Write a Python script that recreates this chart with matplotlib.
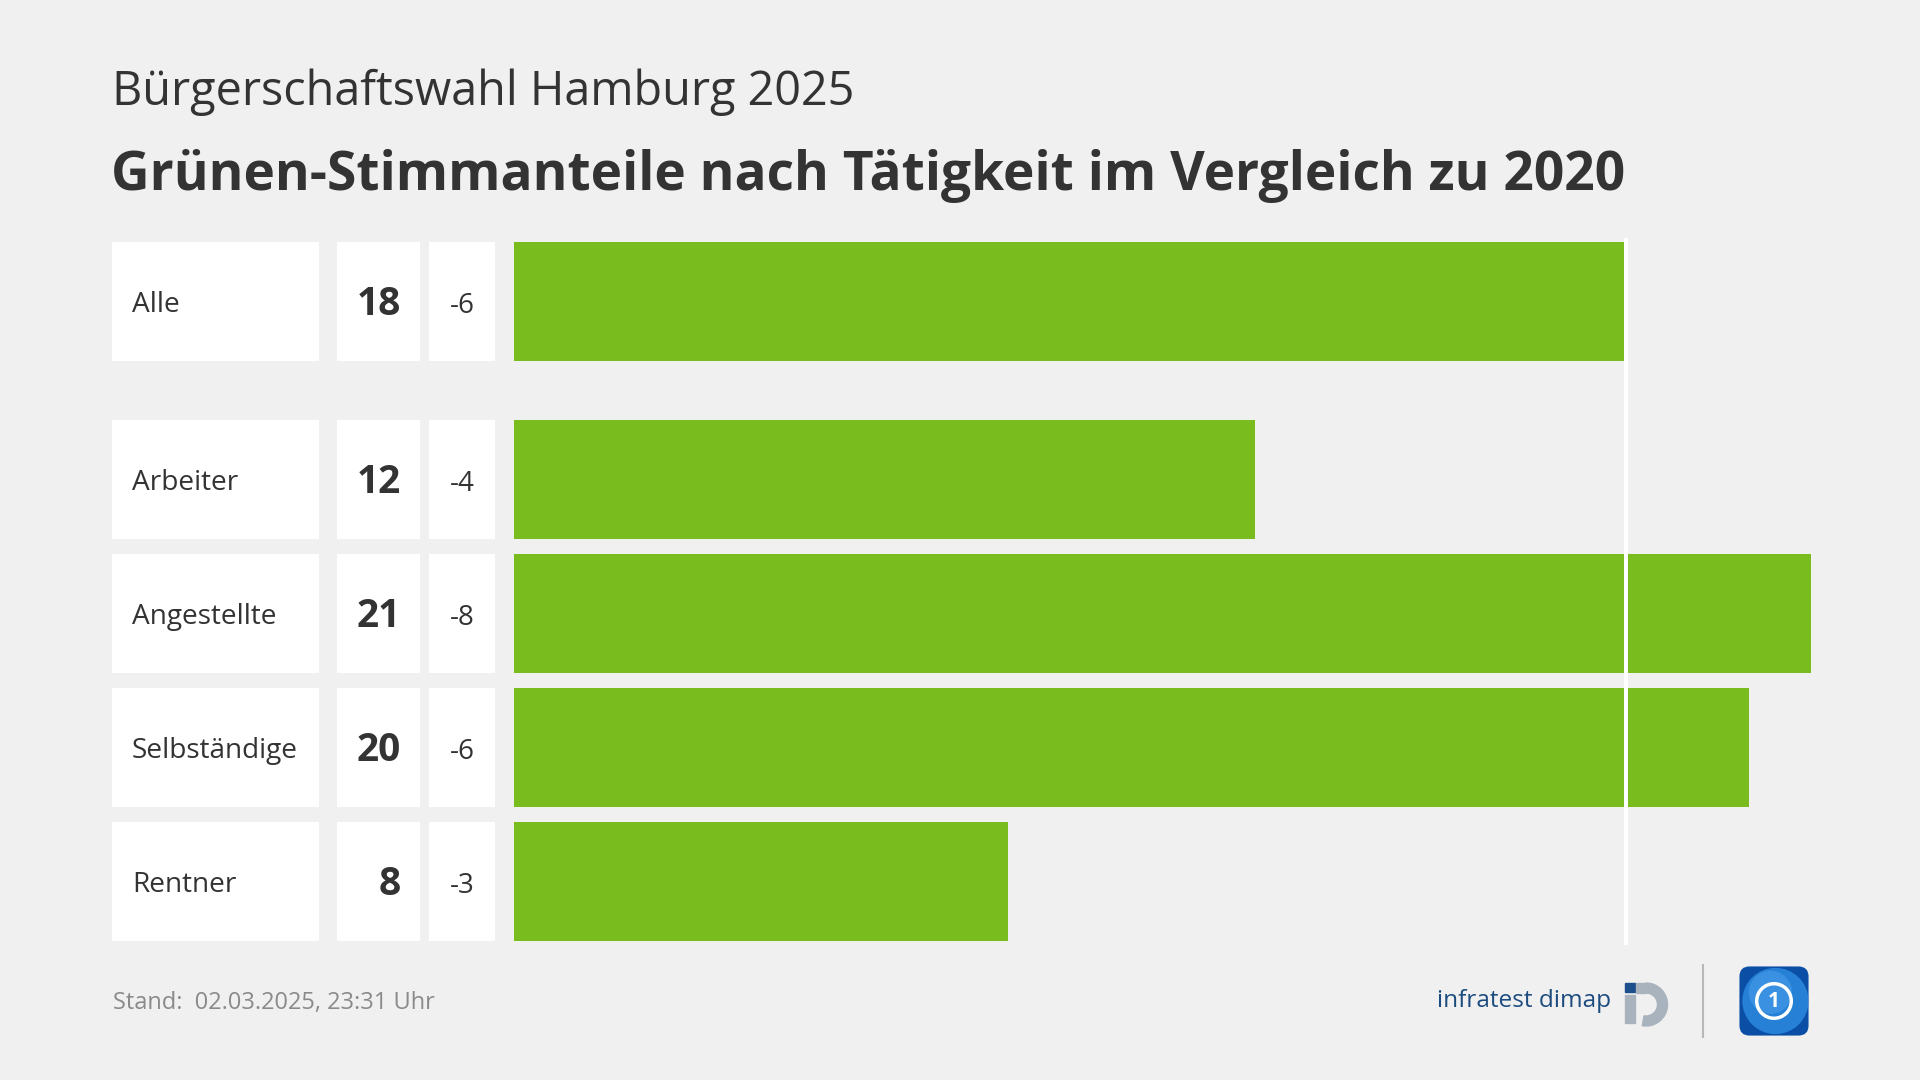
import matplotlib
matplotlib.use('Agg')
import matplotlib.pyplot as plt
from matplotlib.patches import Rectangle, FancyBboxPatch, Circle, Wedge
from matplotlib.lines import Line2D
from matplotlib.transforms import blended_transform_factory, offset_copy

# ---------------- data ----------------
categories = ["Alle", "Arbeiter", "Angestellte", "Selbständige", "Rentner"]
shares = [18, 12, 21, 20, 8]
changes = [-6, -4, -8, -6, -3]
reference_value = shares[0]

subtitle = "Bürgerschaftswahl Hamburg 2025"
title = "Grünen-Stimmanteile nach Tätigkeit im Vergleich zu 2020"
footer = "Stand:  02.03.2025, 23:31 Uhr"
brand = "infratest dimap"

# ---------------- style ----------------
plt.rcParams['font.family'] = ['Open Sans', 'DejaVu Sans']
BG = '#f0f0f0'
GREEN = '#78bc1e'
DARK = '#333333'
GREY = '#8a8a8a'

W, H = 1920, 1080
fig = plt.figure(figsize=(19.2, 10.8), dpi=100)
fig.patch.set_facecolor(BG)


def fx(px):
    return px / W


def fy(py):
    return 1 - py / H


# ---------------- bar axes ----------------
px_per_unit = 61.75
xmax = 22
ax_top_px, ax_bot_px = 238, 945
ax = fig.add_axes([fx(514), fy(ax_bot_px), xmax * px_per_unit / W, (ax_bot_px - ax_top_px) / H])
ax.set_facecolor('none')

extra_gap = 0.332
positions = [0.0] + [i + extra_gap for i in range(1, len(categories))]
bar_h = 0.888

ax.barh(positions, shares, height=bar_h, color=GREEN, zorder=2)
ax.axvline(reference_value, color='white', lw=4 * 0.72, zorder=3)
ax.set_xlim(0, xmax)
pad = 4 / 134
ax.set_ylim(positions[-1] + bar_h / 2 + pad, positions[0] - bar_h / 2 - pad)
ax.axis('off')

# ---------------- table cells ----------------
trans = blended_transform_factory(fig.transFigure, ax.transData)
cells = [(112, 319), (337, 420), (429, 495)]
for p in positions:
    for x0, x1 in cells:
        fig.add_artist(Rectangle((fx(x0), p - bar_h / 2), (x1 - x0) / W, bar_h,
                                 transform=trans, facecolor='white', edgecolor='none',
                                 clip_on=False))

t_label = offset_copy(trans, fig=fig, y=-10.5, units='dots')
t_value = offset_copy(trans, fig=fig, y=-13.5, units='dots')
t_diff = offset_copy(trans, fig=fig, y=-11.5, units='dots')
for p, cat, val, ch in zip(positions, categories, shares, changes):
    fig.text(fx(132), p, cat, transform=t_label, fontsize=20.2, color=DARK,
             ha='left', va='baseline')
    fig.text(fx(401), p, f"{val}", transform=t_value, fontsize=28, color=DARK,
             fontweight='bold', ha='right', va='baseline')
    fig.text(fx(462), p, f"{ch}", transform=t_diff, fontsize=20, color=DARK,
             ha='center', va='baseline')

# ---------------- titles ----------------
fig.text(fx(112), fy(105), subtitle, fontsize=33.7, color=DARK, ha='left', va='baseline')
fig.text(fx(111), fy(190), title, fontsize=38.3, color=DARK, fontweight='bold',
         ha='left', va='baseline')

# ---------------- footer ----------------
fig.text(fx(113), fy(1009), footer, fontsize=17, color=GREY, ha='left', va='baseline')
fig.text(fx(1611), fy(1007), brand, fontsize=17.6, color='#1d4c80', ha='right', va='baseline')

# infratest dimap logo
lax = fig.add_axes([fx(1615), fy(1035), 65 / W, 60 / H])
lax.set_xlim(1615, 1680)
lax.set_ylim(1035, 975)
lax.axis('off')
LG = '#a9b3bd'
lax.add_patch(Rectangle((1625, 983), 10, 9, color='#1d4f8c'))
lax.add_patch(Rectangle((1625, 995), 10, 28, color=LG))
lax.add_patch(Rectangle((1636, 983), 10, 10, color=LG))
lax.add_patch(Wedge((1646, 1004.5), 21.5, -90, 100, width=10, color=LG))

# separator
fig.add_artist(Line2D([fx(1703), fx(1703)], [fy(965), fy(1037)], color='#b8b8b8', lw=1.5))

# tagesschau-like icon
tax = fig.add_axes([fx(1738), fy(1037), 72 / W, 72 / H])
tax.set_xlim(0, 1)
tax.set_ylim(0, 1)
tax.axis('off')
box = FancyBboxPatch((0.02, 0.02), 0.96, 0.96, boxstyle='round,pad=0,rounding_size=0.14',
                     facecolor='#0a4ea6', edgecolor='none')
tax.add_patch(box)
globe = Circle((0.52, 0.5), 0.46, facecolor='#2a86dc', edgecolor='none', alpha=0.9)
tax.add_patch(globe)
globe.set_clip_path(box)
hl = Circle((0.45, 0.62), 0.3, facecolor='#4fa3ec', edgecolor='none', alpha=0.5)
tax.add_patch(hl)
hl.set_clip_path(box)
tax.add_patch(Circle((0.5, 0.5), 0.24, fill=False, edgecolor='white', lw=2.5))
tax.text(0.5, 0.49, '1', color='white', fontsize=15, fontweight='bold',
         ha='center', va='center')

fig.savefig('out.png', dpi=100, facecolor=BG)
